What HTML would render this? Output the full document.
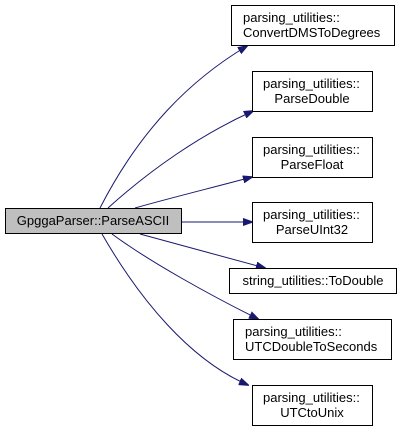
<!DOCTYPE html>
<html><head><style>html,body{margin:0;padding:0;background:#fff}</style></head><body>
<svg width="401" height="431" viewBox="0 0 401 431" xmlns="http://www.w3.org/2000/svg" font-family="Liberation Sans, sans-serif" font-size="13">
<defs><marker id="a" markerWidth="10" markerHeight="8" refX="9" refY="4" orient="auto" markerUnits="userSpaceOnUse"><path d="M0,0.5 L10,4 L0,7.5 z" fill="#191970" stroke="#191970"/></marker></defs>
<g fill="none" stroke="#191970" stroke-width="1" marker-end="url(#a)">
<path d="M100,208 C140,130 190,80 247,46"/>
<path d="M108,208 C150,170 200,135 253,111"/>
<path d="M135,208 C170,198 215,187 252,177"/>
<path d="M181,222 L252,222"/>
<path d="M140,234 C180,245 225,257 265,268"/>
<path d="M112,234 C150,262 210,295 258,319"/>
<path d="M102,234 C140,300 190,360 248,385"/>
</g>
<g stroke="#000" stroke-width="1">
<rect x="5.5" y="208.5" width="176" height="25" fill="#bfbfbf"/>
<rect x="231.5" y="5.5" width="163" height="40" fill="#fff"/>
<rect x="252.5" y="71.5" width="120" height="40" fill="#fff"/>
<rect x="252.5" y="137.5" width="120" height="40" fill="#fff"/>
<rect x="252.5" y="202.5" width="120" height="40" fill="#fff"/>
<rect x="229.5" y="268.5" width="167" height="25" fill="#fff"/>
<rect x="233.5" y="319.5" width="158" height="40" fill="#fff"/>
<rect x="252.5" y="385.5" width="120" height="40" fill="#fff"/>
</g>
<g fill="#000">
<text x="93" y="225" text-anchor="middle">GpggaParser::ParseASCII</text>
<text x="243" y="22">parsing_utilities::</text><text x="243" y="37">ConvertDMSToDegrees</text>
<text x="263" y="88">parsing_utilities::</text><text x="312" y="103" text-anchor="middle">ParseDouble</text>
<text x="263" y="154">parsing_utilities::</text><text x="312" y="169" text-anchor="middle">ParseFloat</text>
<text x="263" y="219">parsing_utilities::</text><text x="312" y="234" text-anchor="middle">ParseUInt32</text>
<text x="313" y="285" text-anchor="middle">string_utilities::ToDouble</text>
<text x="245" y="336">parsing_utilities::</text><text x="245" y="351">UTCDoubleToSeconds</text>
<text x="263" y="402">parsing_utilities::</text><text x="312" y="417" text-anchor="middle">UTCtoUnix</text>
</g>
</svg>
</body></html>
